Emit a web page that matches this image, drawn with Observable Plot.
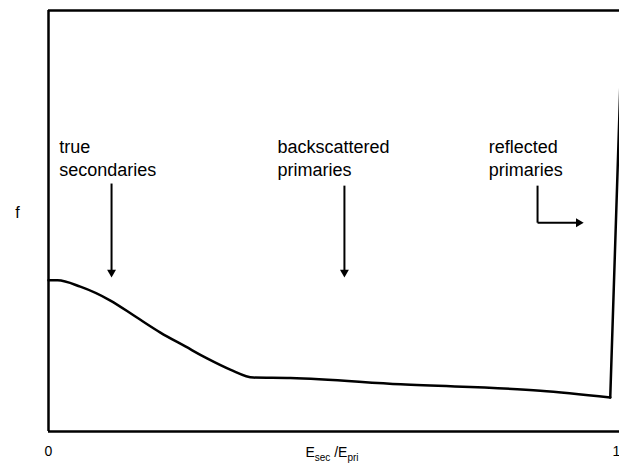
<!DOCTYPE html>
<html><head><meta charset="utf-8">
<script src="https://cdn.jsdelivr.net/npm/d3@7"></script>
<script src="https://cdn.jsdelivr.net/npm/@observablehq/plot@0.6"></script>
<style>body{margin:0;background:#fff}</style>
</head><body><div id="chart"></div>
<script>
// Energy distribution curve (arbitrary units of f)
const curveX = [0, 0.016, 0.056, 0.109, 0.153, 0.197, 0.241, 0.280, 0.320, 0.361, 0.426, 0.620, 0.866, 0.989];
const curveY = [35.9, 35.9, 34.4, 31.1, 27.3, 23.5, 20.2, 17.3, 14.7, 12.8, 12.7, 11.2, 9.7, 8.1];
const spikeX = [0.989, 1.011];
const spikeY = [8.1, 100];

const xTicks = [0, 1];
const xTickLabels = ["0", "1"];

const labelText = ["true\nsecondaries", "backscattered\nprimaries", "reflected\nprimaries"];
const labelX = [0.019, 0.403, 0.775];
const labelY = [70.2, 70.2, 70.2];

// arrow segments
const segX1 = [0.111, 0.521, 0.861, 0.861];
const segY1 = [58.9, 58.4, 58.4, 49.6];
const segX2 = [0.111, 0.521, 0.861, 0.935];
const segY2 = [37.5, 37.5, 49.6, 49.6];
const downHeadX = [0.111, 0.521];
const downHeadY = [36.6, 36.6];
const rightHeadX = [0.942];
const rightHeadY = [49.6];

const curve = curveX.map((x, i) => ({x, y: curveY[i]}));
const spike = spikeX.map((x, i) => ({x, y: spikeY[i]}));
const labels = labelText.map((t, i) => ({t, x: labelX[i], y: labelY[i]}));
const segs = segX1.map((x1, i) => ({x1, y1: segY1[i], x2: segX2[i], y2: segY2[i]}));
const downHeads = downHeadX.map((x, i) => ({x, y: downHeadY[i]}));
const rightHeads = rightHeadX.map((x, i) => ({x, y: rightHeadY[i]}));

const chart = Plot.plot({
  width: 619,
  height: 474,
  marginLeft: 48,
  marginRight: 3,
  marginTop: 10,
  marginBottom: 43,
  style: {fontFamily: "'Liberation Sans', Arial, sans-serif", background: "#fff", color: "#000"},
  x: {domain: [0, 1]},
  y: {domain: [0, 100], axis: null},
  marks: [
    // frame (open at right)
    Plot.ruleY([0, 100], {x1: 0, x2: 1.02, stroke: "#000", strokeWidth: 2.5}),
    Plot.ruleX([0], {y1: 0, y2: 100, stroke: "#000", strokeWidth: 2.5}),
    Plot.axisX(xTicks, {tickSize: 0, tickPadding: 15, fontSize: 14, label: null,
      tickFormat: d => xTickLabels[xTicks.indexOf(d)]}),
    Plot.line(curve, {x: "x", y: "y", curve: "monotone-x", stroke: "#000", strokeWidth: 2.5}),
    Plot.line(spike, {x: "x", y: "y", stroke: "#000", strokeWidth: 2.5}),
    Plot.link(segs, {x1: "x1", y1: "y1", x2: "x2", y2: "y2", stroke: "#000", strokeWidth: 2}),
    Plot.dot(downHeads, {x: "x", y: "y", symbol: "triangle", r: 3.3, fill: "#000", stroke: null,
      rotate: 180, dy: -5}),
    Plot.dot(rightHeads, {x: "x", y: "y", symbol: "triangle", r: 3.3, fill: "#000", stroke: null,
      rotate: 90, dx: -5}),
    Plot.text(labels, {x: "x", y: "y", text: "t", textAnchor: "start", lineAnchor: "top",
      lineHeight: 1.3, fontSize: 18, fill: "#000"}),
    Plot.text(["f"], {x: 0, y: 52, dx: -31, fontSize: 16, fill: "#000"})
  ]
});

const svg = d3.select(chart);
const sx = chart.scale("x");
const t = svg.append("text")
  .attr("x", sx.apply(0.5))
  .attr("y", 457)
  .attr("text-anchor", "middle")
  .attr("font-size", 14)
  .attr("fill", "#000");
t.append("tspan").text("E");
t.append("tspan").attr("font-size", 10).attr("dy", 4).text("sec");
t.append("tspan").attr("dy", -4).text(" /E");
t.append("tspan").attr("font-size", 10).attr("dy", 4).text("pri");

document.getElementById("chart").appendChild(chart);
</script>
</body></html>
